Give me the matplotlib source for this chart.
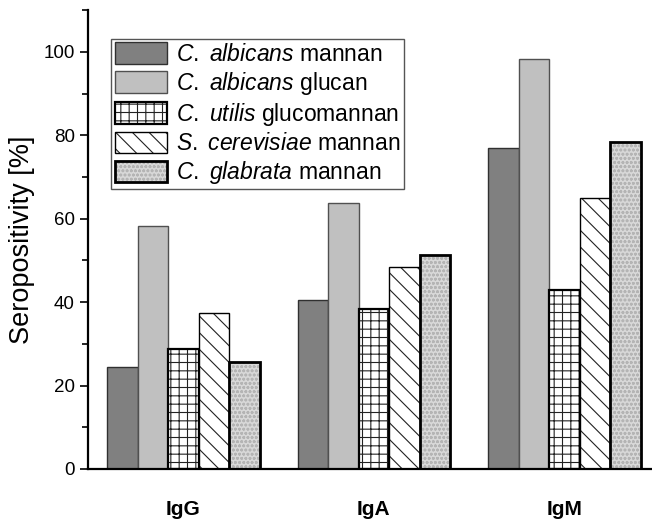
import matplotlib
matplotlib.use("Agg")
import matplotlib.pyplot as plt
import numpy as np
from matplotlib.ticker import MultipleLocator
from matplotlib.legend_handler import HandlerTuple

plt.rcParams['font.family'] = ['Liberation Sans', 'DejaVu Sans']
plt.rcParams['mathtext.fontset'] = 'custom'
plt.rcParams['mathtext.it'] = 'Liberation Sans:italic'
plt.rcParams['mathtext.rm'] = 'Liberation Sans'
plt.rcParams['mathtext.bf'] = 'Liberation Sans:bold'
plt.rcParams['hatch.linewidth'] = 0.8

groups = ['IgG', 'IgA', 'IgM']
series_names = [r'$\mathit{C.\ albicans}$ mannan', r'$\mathit{C.\ albicans}$ glucan',
                r'$\mathit{C.\ utilis}$ glucomannan', r'$\mathit{S.\ cerevisiae}$ mannan',
                r'$\mathit{C.\ glabrata}$ mannan']
alb_mannan = [24.5, 40.5, 77.0]
alb_glucan = [58.2, 63.8, 98.3]
utilis_glucomannan = [28.8, 38.3, 42.8]
cerevisiae_mannan = [37.5, 48.5, 64.9]
glabrata_mannan = [25.6, 51.2, 78.3]

fig = plt.figure(figsize=(6.52, 5.25), dpi=100)
ax = fig.add_axes([0.135, 0.1067, 0.865, 0.874])

x = np.arange(len(groups))
w = 0.16
offs = np.array([-2, -1, 0, 1, 2]) * w

h1 = ax.bar(x + offs[0], alb_mannan, w, facecolor='#808080', edgecolor='#303030', linewidth=1.0)
h2 = ax.bar(x + offs[1], alb_glucan, w, facecolor='#c0c0c0', edgecolor='#505050', linewidth=1.0)
h3a = ax.bar(x + offs[2], utilis_glucomannan, w, facecolor='white', edgecolor='#222222', hatch='++', linewidth=0)
h3b = ax.bar(x + offs[2], utilis_glucomannan, w, facecolor='none', edgecolor='black', linewidth=1.6)
h4a = ax.bar(x + offs[3], cerevisiae_mannan, w, facecolor='white', edgecolor='#222222', hatch='\\\\', linewidth=0)
h4b = ax.bar(x + offs[3], cerevisiae_mannan, w, facecolor='none', edgecolor='black', linewidth=1.0)
h5a = ax.bar(x + offs[4], glabrata_mannan, w, facecolor='#d8d8d8', edgecolor='#b4b4b4', hatch='oooo', linewidth=0)
h5b = ax.bar(x + offs[4], glabrata_mannan, w, facecolor='none', edgecolor='black', linewidth=2.0)

ax.set_xlim(-0.5, 2.46)
ax.set_ylim(0, 110)
ax.spines['top'].set_visible(False)
ax.spines['right'].set_visible(False)
ax.spines['left'].set_linewidth(1.6)
ax.spines['bottom'].set_linewidth(1.6)
ax.yaxis.set_major_locator(MultipleLocator(20))
ax.yaxis.set_minor_locator(MultipleLocator(10))
ax.tick_params(axis='y', which='major', length=6, width=1.2, labelsize=13.5, direction='out')
ax.tick_params(axis='y', which='minor', length=4, width=1.2, direction='out')
ax.set_xticks(x)
ax.set_xticklabels(groups, fontweight='bold', fontsize=15)
ax.tick_params(axis='x', length=0, pad=22)
ax.set_ylabel('Seropositivity [%]', fontsize=19.5, labelpad=6)

leg = ax.legend([h1, h2, (h3a, h3b), (h4a, h4b), (h5a, h5b)], series_names,
                handler_map={tuple: HandlerTuple(ndivide=1, pad=0)},
                loc='upper left', bbox_to_anchor=(0.041, 0.937), borderaxespad=0,
                fontsize=16.5, handlelength=2.3, handleheight=1.05, labelspacing=0.17,
                handletextpad=0.4, borderpad=0.15,
                fancybox=False, framealpha=1, edgecolor='#555555')
leg.get_frame().set_linewidth(1.0)

fig.savefig('out.png', dpi=100)
